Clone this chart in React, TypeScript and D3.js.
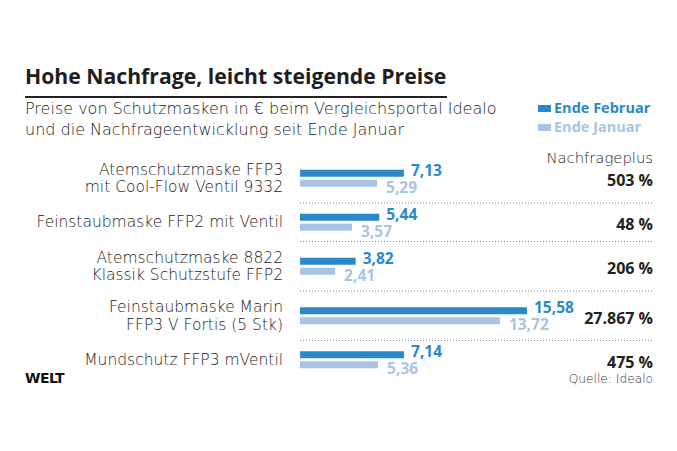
import React from "react";
import * as d3 from "d3";

const categories: string[][] = [
  ["Atemschutzmaske FFP3", "mit Cool-Flow Ventil 9332"],
  ["Feinstaubmaske FFP2 mit Ventil"],
  ["Atemschutzmaske 8822", "Klassik Schutzstufe FFP2"],
  ["Feinstaubmaske Marin", "FFP3 V Fortis (5 Stk)"],
  ["Mundschutz FFP3 mVentil"],
];
const endeFebruar = [7.13, 5.44, 3.82, 15.58, 7.14];
const endeJanuar = [5.29, 3.57, 2.41, 13.72, 5.36];
const nachfrageplus = ["503 %", "48 %", "206 %", "27.867 %", "475 %"];

const DARK = "#2b88c9";
const LIGHT = "#a8c4e5";
const FONT = "'Open Sans', Lato, sans-serif";
const LIGHTFONT = "'DejaVu Sans', sans-serif";

const fmt = (v: number) => v.toFixed(2).replace(".", ",");

export default function App() {
  const W = 677;
  const H = 451;
  const x = d3.scaleLinear().domain([0, 15.58]).range([300, 527]);

  // row bands, height depends on number of label lines
  const heights = categories.map((c) => (c.length === 2 ? 49.5 : 38.5));
  const tops: number[] = [];
  let acc = 153.5;
  heights.forEach((h) => {
    tops.push(acc);
    acc += h;
  });
  const centers = tops.map((t, i) => t + heights[i] / 2);
  const barH = 7;
  const gap = 3;

  return (
    <svg
      width={W}
      height={H}
      style={{ position: "absolute", left: 0, top: 0, background: "#fff" }}
      fontFamily={FONT}
    >
      <rect width={W} height={H} fill="#fff" />
      <text x={25} y={84} fontSize={21.2} fontWeight={700} fill="#1e1e1e">
        Hohe Nachfrage, leicht steigende Preise
      </text>
      <line x1={25} x2={447} y1={97} y2={97} stroke="#222" strokeWidth={2} />
      <text x={25} y={114} fontSize={16} fontWeight={200} fill="#222" fontFamily={LIGHTFONT}>
        Preise von Schutzmasken in € beim Vergleichsportal Idealo
      </text>
      <text x={25} y={135} fontSize={16} fontWeight={200} fill="#222" fontFamily={LIGHTFONT}>
        und die Nachfrageentwicklung seit Ende Januar
      </text>

      {/* legend */}
      <rect x={538} y={105} width={13} height={7} fill={DARK} />
      <text x={554} y={113} fontSize={14.5} fontWeight={700} fill={DARK}>
        Ende Februar
      </text>
      <rect x={538} y={124} width={13} height={7} fill={LIGHT} />
      <text x={554} y={132} fontSize={14.5} fontWeight={700} fill={LIGHT}>
        Ende Januar
      </text>

      <text x={653} y={163} fontSize={14.8} fontWeight={200} fill="#222" textAnchor="end" fontFamily={LIGHTFONT}>
        Nachfrageplus
      </text>

      {categories.map((lines, i) => {
        const c = centers[i];
        const yD = c - barH - gap / 2;
        const yL = c + gap / 2;
        return (
          <g key={i}>
            {lines.map((ln, j) => (
              <text
                key={j}
                x={283}
                y={lines.length === 2 ? c - 3.5 + j * 17.5 : c + 5}
                fontSize={15.5}
                fontWeight={200}
                fill="#222"
                textAnchor="end"
                fontFamily={LIGHTFONT}
              >
                {ln}
              </text>
            ))}
            <rect x={x(0)} y={yD} width={x(endeFebruar[i]) - x(0)} height={barH} fill={DARK} />
            <rect x={x(0)} y={yL} width={x(endeJanuar[i]) - x(0)} height={barH} fill={LIGHT} />
            <text
              x={x(endeFebruar[i]) + 7}
              y={yD + 6}
              fontSize={15.5}
              fontWeight={700}
              fill={DARK}
            >
              {fmt(endeFebruar[i])}
            </text>
            <text
              x={x(endeJanuar[i]) + 9}
              y={yL + 13}
              fontSize={15.5}
              fontWeight={700}
              fill={LIGHT}
            >
              {fmt(endeJanuar[i])}
            </text>
            <text
              x={653}
              y={c + 8}
              fontSize={16}
              fontWeight={700}
              fill="#222"
              textAnchor="end"
            >
              {nachfrageplus[i]}
            </text>
            {i < categories.length - 1 && (
              <line
                x1={300}
                x2={653}
                y1={tops[i] + heights[i]}
                y2={tops[i] + heights[i]}
                stroke="#888"
                strokeWidth={1}
                strokeDasharray="1,2"
              />
            )}
          </g>
        );
      })}

      <text x={25} y={383} fontSize={14} fontWeight={900} fill="#111" fontFamily="'DejaVu Sans', sans-serif" letterSpacing={-0.5}>
        WELT
      </text>
      <text x={653} y={383} fontSize={12.2} fontWeight={200} fill="#333" textAnchor="end" fontFamily={LIGHTFONT}>
        Quelle: Idealo
      </text>
    </svg>
  );
}
